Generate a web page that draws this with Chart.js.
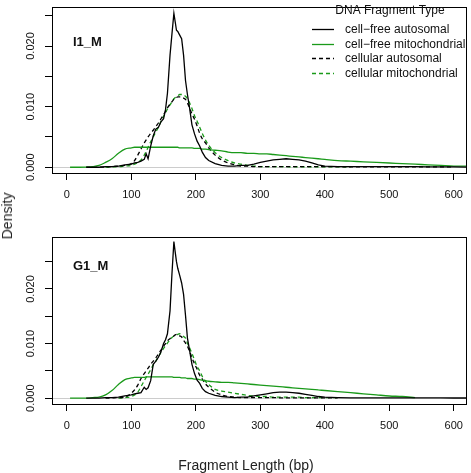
<!DOCTYPE html>
<html>
<head>
<meta charset="utf-8">
<script src="https://cdn.jsdelivr.net/npm/chart.js@4.4.0/dist/chart.umd.min.js"></script>
<style>
    body { margin: 0; background: #fff; }
    #wrap { position: relative; width: 471px; height: 473px; font-family: "Liberation Sans", Arial, sans-serif; }
    .panel { position: absolute; left: 0; width: 471px; }
    .axisTitle { position: absolute; font-size: 14px; line-height: 16px; color: #222; white-space: nowrap; }
    #ylab { left: 7px; top: 216px; transform: translate(-50%, -50%) rotate(-90deg); }
    #xlab { left: 246px; top: 465px; transform: translate(-50%, -50%); }
</style>
</head>
<body>
<div id="wrap">
    <div class="panel" style="top:0;height:230px"><canvas id="panelTop"></canvas></div>
    <div class="panel" style="top:230px;height:243px"><canvas id="panelBottom"></canvas></div>
    <div id="ylab" class="axisTitle">Density</div>
    <div id="xlab" class="axisTitle">Fragment Length (bp)</div>
</div>
<script>
// Fragment lengths (bp) shared by every curve
const lengths = [
    5, 20, 30, 40, 50, 60, 70, 80, 90, 100,
    105, 110, 115, 120, 123, 126, 130, 134, 138, 142,
    146, 150, 153, 156, 160, 163, 166, 168, 170, 172,
    175, 178, 181, 184, 187, 190, 194, 198, 202, 206,
    210, 215, 220, 230, 240, 250, 260, 270, 280, 290,
    300, 310, 320, 330, 340, 350, 360, 370, 380, 390,
    400, 420, 440, 460, 480, 500, 520, 540, 560, 580,
    600, 620
];

const seriesNames = ['cell\u2212free autosomal', 'cell\u2212free mitochondrial', 'cellular autosomal', 'cellular mitochondrial'];
const panelNames = ['I1_M', 'G1_M'];
const legendTitle = 'DNA Fragment Type';
const xTicks = [0, 100, 200, 300, 400, 500, 600];
const yTicks = [0, 0.005, 0.010, 0.015, 0.020, 0.025];

// I1_M densities
const i1CfAuto = [
    null, null, 0, 0, 0, 0.0001, 0.0001, 0.0002, 0.0004, 0.0005,
    0.0007, 0.0008, 0.0010, 0.0013, 0.0022, 0.0014, 0.0035, 0.0052, 0.0063, 0.0066,
    0.0075, 0.0080, 0.0095, 0.0122, 0.0185, 0.0220, 0.0254, 0.0240, 0.0226, 0.0224,
    0.0218, 0.0212, 0.0185, 0.0143, 0.0120, 0.0100, 0.0070, 0.0055, 0.0043, 0.0035,
    0.0025, 0.0016, 0.0011, 0.0006, 0.0003, 0.0002, 0.0002, 0.0003, 0.0003, 0.0005,
    0.0008, 0.0010, 0.0012, 0.0013, 0.0014, 0.0013, 0.0012, 0.0010, 0.0007, 0.0004,
    0.0002, 0.0001, 0.0001, 0.0001, 0.0001, 0.0001, 0.0001, 0.0001, 0.00005, 0.00005,
    0.00005, 0.00003
];
const i1CfMito = [
    0, 0, 0.00002, 0.0001, 0.0003, 0.0008, 0.0014, 0.0023, 0.0030, 0.0032,
    0.0033, 0.0033, 0.0033, 0.0033, 0.0033, 0.0033, 0.0033, 0.0033, 0.0033, 0.0033,
    0.0033, 0.0033, 0.0033, 0.0033, 0.0033, 0.0033, 0.0033, 0.0033, 0.0033, 0.0033,
    0.0032, 0.0032, 0.0032, 0.0032, 0.0032, 0.0032, 0.0032, 0.0031, 0.0031, 0.0031,
    0.0030, 0.0030, 0.0029, 0.0028, 0.0027, 0.0025, 0.0024, 0.0024, 0.0023, 0.0023,
    0.0022, 0.0022, 0.0021, 0.0020, 0.0019, 0.0018, 0.0017, 0.0016, 0.0015, 0.0014,
    0.0013, 0.0011, 0.0010, 0.0009, 0.0008, 0.0007, 0.0006, 0.0005, 0.0004, 0.0003,
    0.0002, 0.0002
];
const i1CellAuto = [
    null, null, 0, 0, 0, 0.00005, 0.0001, 0.0002, 0.0003, 0.0006,
    0.0011, 0.0020, 0.0030, 0.0040, 0.0045, 0.0050, 0.0056, 0.0061, 0.0067, 0.0073,
    0.0080, 0.0087, 0.0092, 0.0098, 0.0104, 0.0108, 0.0112, 0.0114, 0.0115, 0.0116,
    0.0116, 0.0115, 0.0114, 0.0112, 0.0106, 0.0099, 0.0088, 0.0079, 0.0068, 0.0056,
    0.0047, 0.0040, 0.0032, 0.0020, 0.0012, 0.0007, 0.0004, 0.0002, 0.0002, 0.0001,
    0.0001, 0.0001, 0.0001, 0.0001, 0.0001, 0.0001, 0.0001, 0.0001, 0.0001, 0.0001,
    0.0001, 0.0001, 0.00005, 0.00005, 0.00005, 0.00005, 0.00005, 0.00005, 0.00005, 0.00005,
    0.00005, null
];
const i1CellMito = [
    null, null, null, null, null, 0, 0.00005, 0.0001, 0.0002, 0.0003,
    0.0005, 0.0008, 0.0012, 0.0020, 0.0026, 0.0033, 0.0042, 0.0050, 0.0058, 0.0066,
    0.0076, 0.0084, 0.0090, 0.0096, 0.0103, 0.0108, 0.0113, 0.0115, 0.0117, 0.0118,
    0.0120, 0.0120, 0.0119, 0.0117, 0.0113, 0.0107, 0.0097, 0.0085, 0.0076, 0.0066,
    0.0056, 0.0045, 0.0036, 0.0024, 0.0016, 0.0011, 0.0007, 0.0005, 0.0003, 0.0002,
    0.0001, 0.0001, 0.0001, 0.0001, 0.0001, 0.00005, 0.00005, 0.00005, 0.00005, 0.00005,
    0.00005, 0.00005, 0.00005, null, null, null, null, null, null, null,
    null, null
];

// G1_M densities
const g1CfAuto = [
    null, null, 0, 0, 0, 0.0001, 0.0001, 0.0002, 0.0004, 0.0006,
    0.0008, 0.0009, 0.0010, 0.0020, 0.0016, 0.0019, 0.0032, 0.0062, 0.0068, 0.0075,
    0.0085, 0.0100, 0.0107, 0.0118, 0.0160, 0.0228, 0.0287, 0.0268, 0.0250, 0.0238,
    0.0225, 0.0211, 0.0190, 0.0152, 0.0110, 0.0090, 0.0062, 0.0045, 0.0033, 0.0027,
    0.0018, 0.0012, 0.0009, 0.0005, 0.0003, 0.0002, 0.0001, 0.0002, 0.0002, 0.0004,
    0.0006, 0.0008, 0.0010, 0.0011, 0.0011, 0.0010, 0.0009, 0.0007, 0.0005, 0.0003,
    0.0002, 0.0001, 0.00005, 0.00005, 0.00005, 0.00005, 0.00005, 0.00005, 0.00005, 0.00005,
    0.00003, 0.00003
];
const g1CfMito = [
    0, 0, 0, 0.0001, 0.0002, 0.0006, 0.0014, 0.0025, 0.0034, 0.0037,
    0.0038, 0.0038, 0.0038, 0.0038, 0.0039, 0.0039, 0.0039, 0.0039, 0.0039, 0.0039,
    0.0039, 0.0039, 0.0039, 0.0039, 0.0039, 0.0039, 0.0038, 0.0038, 0.0038, 0.0038,
    0.0038, 0.0037, 0.0037, 0.0037, 0.0036, 0.0036, 0.0036, 0.0035, 0.0035, 0.0034,
    0.0033, 0.0032, 0.0031, 0.0030, 0.0029, 0.0029, 0.0028, 0.0027, 0.0026, 0.0025,
    0.0024, 0.0023, 0.0022, 0.0021, 0.0020, 0.0019, 0.0018, 0.0017, 0.0016, 0.0015,
    0.0014, 0.0012, 0.0010, 0.0008, 0.0006, 0.0004, 0.0003, 0.0001, null, null,
    null, null
];
const g1CellAuto = [
    null, null, null, null, null, 0, 0.00005, 0.0001, 0.0002, 0.0009,
    0.0015, 0.0024, 0.0036, 0.0045, 0.0050, 0.0055, 0.0062, 0.0068, 0.0074, 0.0081,
    0.0088, 0.0095, 0.0100, 0.0105, 0.0109, 0.0112, 0.0114, 0.0116, 0.0117, 0.0116,
    0.0114, 0.0112, 0.0106, 0.0101, 0.0095, 0.0087, 0.0074, 0.0063, 0.0053, 0.0042,
    0.0035, 0.0026, 0.0020, 0.0011, 0.0006, 0.0003, 0.0002, 0.0001, 0.0001, 0.0001,
    0.0001, 0.0001, 0.0001, 0.00005, 0.00005, 0.00005, 0.00005, 0.00005, 0.00005, 0.00005,
    0.00005, 0.00005, null, null, null, null, null, null, null, null,
    null, null
];
const g1CellMito = [
    null, null, null, null, null, null, null, 0, 0.0001, 0.0003,
    0.0006, 0.0011, 0.0021, 0.0032, 0.0038, 0.0044, 0.0052, 0.0061, 0.0068, 0.0076,
    0.0084, 0.0091, 0.0096, 0.0101, 0.0107, 0.0111, 0.0114, 0.0115, 0.0116, 0.0117,
    0.0118, 0.0116, 0.0113, 0.0110, 0.0101, 0.0093, 0.0082, 0.0070, 0.0058, 0.0050,
    0.0040, 0.0031, 0.0025, 0.0016, 0.0013, 0.0011, 0.0009, 0.0007, 0.0005, 0.0004,
    0.0003, 0.0003, 0.0002, 0.0002, 0.0002, 0.0002, 0.0002, 0.0001, 0.0001, 0.0001,
    0.0001, 0.0001, null, null, null, null, null, null, null, null,
    null, null
];

const FONT = '"Liberation Sans", Arial, sans-serif';
const BLACK = '#000000';
const GREEN = '#1a9a1a';

// Line style per series (solid = cell-free, dashed = cellular)
const lineStyles = [
    { color: BLACK, dash: [], smooth: false },
    { color: GREEN, dash: [], smooth: true },
    { color: BLACK, dash: [4, 3], smooth: true },
    { color: GREEN, dash: [4, 3], smooth: true }
];

function toPoints(values) {
    return lengths.map((x, i) => ({ x: x, y: values[i] }));
}

// Box around the plot region, plus the panel name
const panelDecor = {
    id: 'panelDecor',
    afterDatasetsDraw(chart, args, opts) {
        const { ctx, chartArea } = chart;
        ctx.save();
        ctx.strokeStyle = BLACK;
        ctx.lineWidth = 1;
        ctx.strokeRect(Math.round(chartArea.left) + 0.5, Math.round(chartArea.top) + 0.5,
            Math.round(chartArea.right - chartArea.left) - 1, Math.round(chartArea.bottom - chartArea.top));
        ctx.fillStyle = '#111';
        ctx.font = 'bold 13px ' + FONT;
        ctx.textBaseline = 'middle';
        ctx.textAlign = 'left';
        ctx.fillText(opts.name, opts.nameX, opts.nameY);
        ctx.restore();
    }
};

// Legend drawn from the datasets (line samples with their dash)
const lineLegend = {
    id: 'lineLegend',
    afterDraw(chart, args, opts) {
        if (!opts.show) return;
        const ctx = chart.ctx;
        ctx.save();
        ctx.fillStyle = '#111';
        ctx.font = '12px ' + FONT;
        ctx.textBaseline = 'middle';
        ctx.textAlign = 'center';
        ctx.fillText(opts.title, 390, 11);
        ctx.textAlign = 'left';
        chart.data.datasets.forEach((ds, i) => {
            const y = Math.round(29 + i * 14.5) + 0.5;
            ctx.strokeStyle = ds.borderColor;
            ctx.lineWidth = 1.3;
            ctx.setLineDash(ds.borderDash);
            ctx.beginPath();
            ctx.moveTo(312, y);
            ctx.lineTo(334, y);
            ctx.stroke();
            ctx.setLineDash([]);
            ctx.fillText(ds.label, 345, y);
        });
        ctx.restore();
    }
};

function makePanel(canvasId, name, series, yMin, yMax, padTop, xAxisHeight, nameY, showLegend) {
    const datasets = series.map((values, i) => ({
        label: seriesNames[i],
        data: toPoints(values),
        borderColor: lineStyles[i].color,
        borderDash: lineStyles[i].dash,
        borderWidth: 1.3,
        pointRadius: 0,
        fill: false,
        tension: lineStyles[i].smooth ? 0.4 : 0,
        cubicInterpolationMode: lineStyles[i].smooth ? 'monotone' : 'default',
        spanGaps: false
    }));

    return new Chart(document.getElementById(canvasId).getContext('2d'), {
        type: 'line',
        data: { datasets: datasets },
        options: {
            responsive: true,
            maintainAspectRatio: false,
            animation: false,
            devicePixelRatio: 1,
            layout: { padding: { left: 0, right: 1, top: padTop, bottom: 0 } },
            plugins: {
                legend: { display: false },
                tooltip: { enabled: false },
                panelDecor: { name: name, nameX: 73, nameY: nameY },
                lineLegend: { show: showLegend, title: legendTitle }
            },
            scales: {
                x: {
                    type: 'linear',
                    min: -23,
                    max: 620,
                    afterBuildTicks: scale => { scale.ticks = xTicks.map(v => ({ value: v })); },
                    afterFit: scale => { scale.height = xAxisHeight; },
                    grid: { drawOnChartArea: false, tickLength: 7, tickColor: BLACK, tickWidth: 1 },
                    border: { display: false },
                    ticks: { color: '#111', font: { family: FONT, size: 11 }, padding: 8, maxRotation: 0 }
                },
                y: {
                    min: yMin,
                    max: yMax,
                    afterBuildTicks: scale => { scale.ticks = yTicks.map(v => ({ value: v })); },
                    afterFit: scale => { scale.width = 52; },
                    grid: {
                        color: ctx => (ctx.tick && ctx.tick.value === 0 ? '#cccccc' : 'rgba(0,0,0,0)'),
                        tickColor: BLACK,
                        tickLength: 7,
                        lineWidth: 1
                    },
                    border: { display: false },
                    ticks: {
                        color: '#111',
                        font: { family: FONT, size: 11 },
                        padding: 0,
                        minRotation: 90,
                        maxRotation: 90,
                        crossAlign: 'center',
                        callback: v => (Math.round(v * 200) % 2 === 0 ? v.toFixed(3) : '')
                    }
                }
            }
        },
        plugins: [panelDecor, lineLegend]
    });
}

document.addEventListener('DOMContentLoaded', function() {
    makePanel('panelTop', panelNames[0], [i1CfAuto, i1CfMito, i1CellAuto, i1CellMito],
        -0.00095, 0.0265, 0, 57, 42, true);
    makePanel('panelBottom', panelNames[1], [g1CfAuto, g1CfMito, g1CellAuto, g1CellMito],
        -0.00107, 0.0296, 2, 69, 36, false);
});
</script>
</body>
</html>
